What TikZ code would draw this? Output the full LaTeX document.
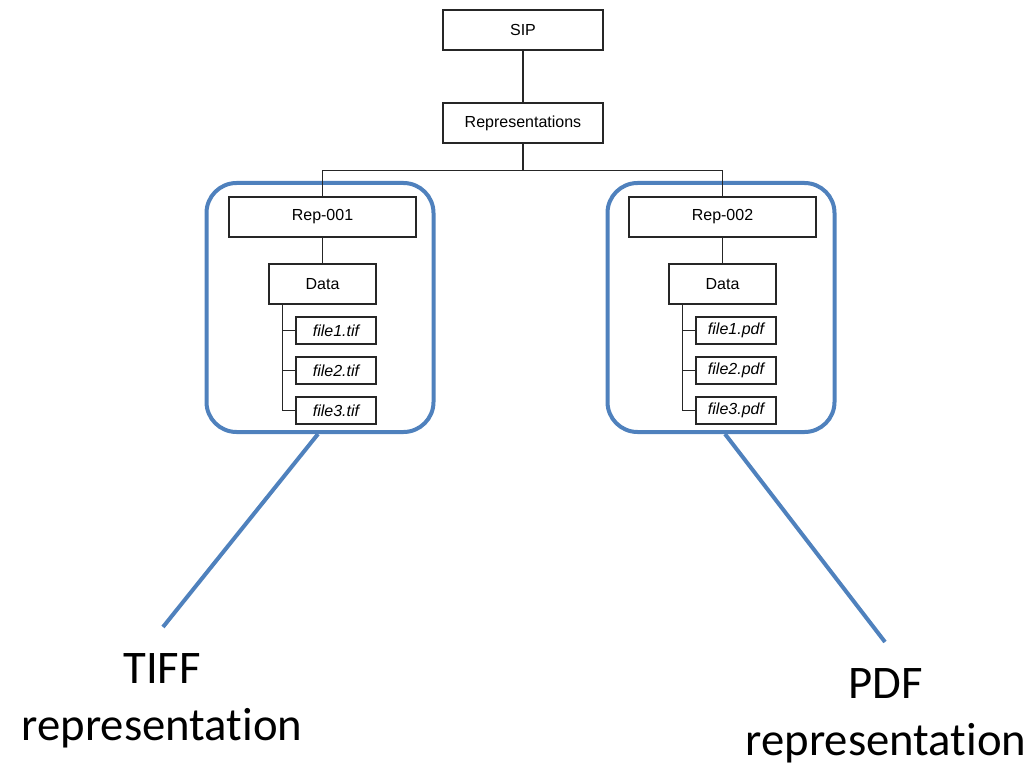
\documentclass[tikz,border=0pt]{standalone}
\usepackage{fontspec}
\setmainfont{Liberation Sans}
\newfontfamily\calibri[Ligatures=NoCommon]{Carlito}
\definecolor{officeblue}{RGB}{79,129,189}
\tikzset{
  box/.style={draw=black!85, line width=1.3pt, fill=white, inner sep=0pt,
    font=\fontsize{16}{19}\selectfont},
  bigbox/.style={box, minimum width=160, minimum height=40},
  repbox/.style={box, minimum width=187, minimum height=40},
  databox/.style={box, minimum width=107, minimum height=40},
  filebox/.style={box, minimum width=80, minimum height=27, font=\fontsize{16}{19}\selectfont\itshape},
  group/.style={draw=officeblue, line width=4pt, rounded corners=30, minimum width=227, minimum height=249, inner sep=0pt},
  conn/.style={draw=black!85, line width=1.3pt},
  callout/.style={draw=officeblue, line width=4pt},
  biglabel/.style={font=\calibri\fontsize{46.7}{57}\selectfont, align=center, inner sep=0pt, anchor=base}
}
\begin{document}
\begin{tikzpicture}[x=1pt,y=-1pt]
\useasboundingbox (0,0) rectangle (1036,770);
% groups
\node[group] (g1) at (320,307.5) {};
\node[group] (g2) at (721,307.5) {};
% tree
\node[bigbox] (sip) at (523,30) {SIP};
\node[bigbox] (reps) at (523,123) {Representations};
\node[repbox] (r1) at (322.5,217) {Rep-001};
\node[repbox] (r2) at (722.5,217) {Rep-002};
\node[databox] (d1) at (322.5,284) {Data};
\node[databox] (d2) at (722.5,284) {Data};
\node[filebox] (a1) at (336,330.5) {file1.tif};
\node[filebox] (a2) at (336,370.5) {file2.tif};
\node[filebox] (a3) at (336,410.5) {file3.tif};
\node[filebox] (b1) at (736,330.5) {file1.pdf};
\node[filebox] (b2) at (736,370.5) {file2.pdf};
\node[filebox] (b3) at (736,410.5) {file3.pdf};
% connectors
\draw[conn] (sip.south) -- (reps.north);
\draw[conn] (reps.south) -- ++(0,27) -| (r1.north);
\draw[conn] (reps.south) -- ++(0,27) -| (r2.north);
\draw[conn] (r1.south) -- (d1.north);
\draw[conn] (r2.south) -- (d2.north);
\foreach \f in {a1,a2,a3}{\draw[conn] ([xshift=14]d1.south west) |- (\f.west);}
\foreach \f in {b1,b2,b3}{\draw[conn] ([xshift=14]d2.south west) |- (\f.west);}
% callouts
\coordinate (c1) at (163,627);
\coordinate (c2) at (885,642);
\draw[callout] ([xshift=-2]g1.south) -- (c1);
\draw[callout] ([xshift=4]g2.south) -- (c2);
\node[biglabel] (t1) at (162,740) {TIFF\\representation};
\node[biglabel] (t2) at (886,755) {PDF\\representation};
\end{tikzpicture}
\end{document}
